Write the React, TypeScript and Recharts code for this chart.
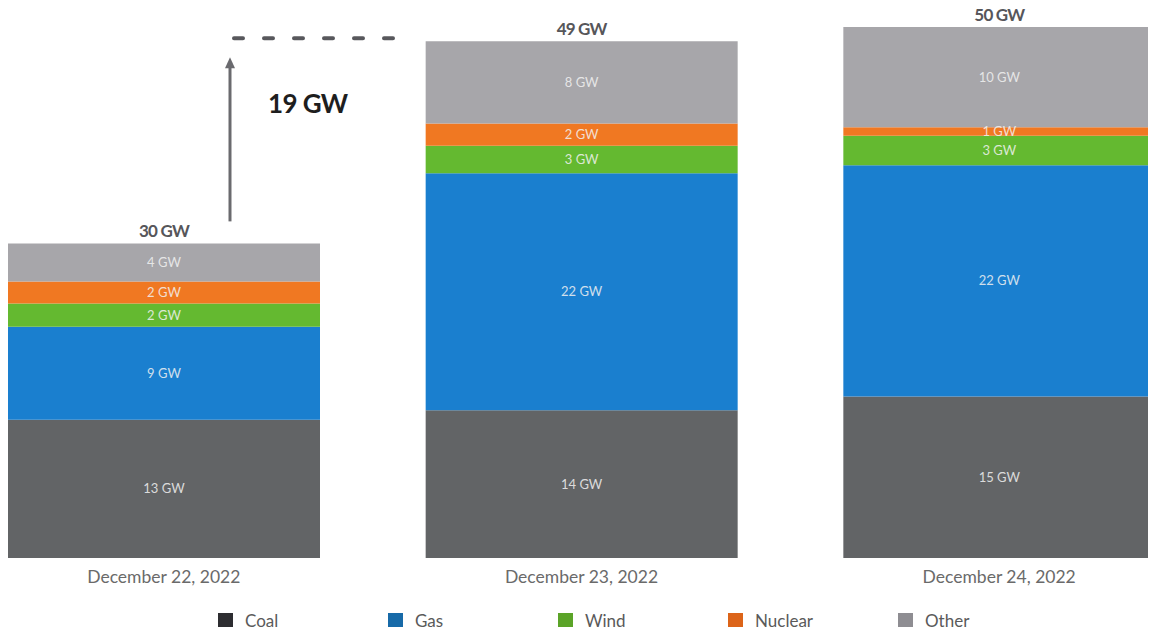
import React from "react";
import {
  BarChart,
  Bar,
  XAxis,
  YAxis,
  LabelList,
  Legend,
  ReferenceArea,
} from "recharts";

// Peak generation by source (GW) on three consecutive days
const days = ["December 22, 2022", "December 23, 2022", "December 24, 2022"];
const coal = [13.1, 14.0, 15.3];
const gas = [8.8, 22.45, 21.9];
const wind = [2.2, 2.6, 2.8];
const nuclear = [2.1, 2.1, 0.8];
const other = [3.6, 7.8, 9.5];

const seriesKeys = ["coal", "gas", "wind", "nuclear", "other"];
const seriesNames = ["Coal", "Gas", "Wind", "Nuclear", "Other"];
const barColors = ["#626466", "#1a7fcf", "#64b930", "#f07822", "#a7a6aa"];
const swatchColors = ["#2d2d31", "#176aa8", "#5ba428", "#dc6419", "#8e8d92"];

const totals = days.map(
  (_, i) => coal[i] + gas[i] + wind[i] + nuclear[i] + other[i]
);

const rows = days.map((day, i) => ({
  day,
  coal: coal[i],
  gas: gas[i],
  wind: wind[i],
  nuclear: nuclear[i],
  other: other[i],
  total: totals[i],
}));

const FONT = "Lato, 'Open Sans', sans-serif";
const gw = (v: any) => `${Math.round(Number(v))} GW`;

// Arrow + dashed line showing the jump between the first two days
const JumpMarker = (props: any) => {
  const { y, height } = props;
  const top = y;
  const bottom = y + height;
  const ax = 230;
  const tipY = top + 16;
  const diff = Math.round(totals[1]) - Math.round(totals[0]);
  return (
    <g>
      <line
        x1={234}
        x2={396}
        y1={top - 3}
        y2={top - 3}
        stroke="#58585c"
        strokeWidth={4}
        strokeDasharray="9 21"
        strokeLinecap="round"
      />
      <line
        x1={ax}
        x2={ax}
        y1={bottom - 22}
        y2={tipY + 10}
        stroke="#6a6a6e"
        strokeWidth={3}
      />
      <polygon
        points={`${ax - 5},${tipY + 11} ${ax + 5},${tipY + 11} ${ax},${tipY}`}
        fill="#6a6a6e"
      />
      <text
        x={268}
        y={top + 72}
        fontFamily={FONT}
        fontWeight="bold"
        fontSize={26}
        letterSpacing={-0.6}
        fill="#1e1e1e"
      >
        {`${diff} GW`}
      </text>
    </g>
  );
};

const renderLegend = () => (
  <div
    style={{
      position: "relative",
      height: 18,
      fontFamily: FONT,
      fontSize: 17,
      lineHeight: "18px",
      color: "#5a5a5a",
    }}
  >
    {seriesNames.map((name, i) => (
      <div
        key={name}
        style={{
          position: "absolute",
          left: 218 + i * 170,
          top: 0,
          height: 18,
          display: "flex",
          alignItems: "center",
        }}
      >
        <span
          style={{
            display: "inline-block",
            width: 15,
            height: 17,
            background: swatchColors[i],
            marginRight: 12,
          }}
        />
        <span>{name}</span>
      </div>
    ))}
  </div>
);

export default function App() {
  return (
    <div style={{ margin: -8, background: "#ffffff" }}>
      <BarChart
        width={1156}
        height={635}
        data={rows}
        margin={{ top: 9, right: -52, bottom: 47, left: -45 }}
        style={{ fontFamily: FONT }}
      >
        <XAxis
          dataKey="day"
          axisLine={false}
          tickLine={false}
          tickSize={0}
          tickMargin={13}
          height={30}
          interval={0}
          tick={{ fill: "#6a6a6a", fontSize: 17.5, fontFamily: FONT }}
        />
        <YAxis hide domain={[0, 52]} />
        {seriesKeys.map((key, i) => (
          <Bar
            key={key}
            dataKey={key}
            name={seriesNames[i]}
            stackId="a"
            fill={barColors[i]}
            barSize={312}
            isAnimationActive={false}
          >
            <LabelList
              dataKey={key}
              position="center"
              formatter={gw}
              fill="#f2f2f2"
              fillOpacity={0.85}
              fontSize={13}
              fontFamily={FONT}
            />
            {key === "other" && (
              <LabelList
                dataKey="total"
                position="top"
                offset={6}
                formatter={gw}
                fill="#56565a"
                fontWeight="bold"
                fontSize={17}
                letterSpacing={-0.8}
                fontFamily={FONT}
              />
            )}
          </Bar>
        ))}
        <ReferenceArea
          y1={totals[0]}
          y2={totals[1]}
          ifOverflow="visible"
          shape={JumpMarker}
        />
        <Legend
          verticalAlign="middle"
          content={renderLegend}
          wrapperStyle={{ top: 612, left: 0, width: 1156 }}
        />
      </BarChart>
    </div>
  );
}
